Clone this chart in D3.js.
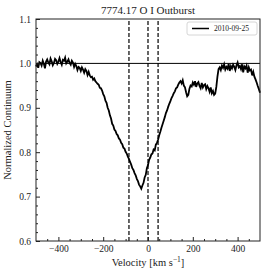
<!DOCTYPE html>
<html><head><meta charset="utf-8">
<script src="https://cdn.jsdelivr.net/npm/d3@7"></script>
<style>body{margin:0;background:#fff}svg text{font-family:"Liberation Serif","DejaVu Serif",serif}</style>
</head><body><svg id="c" width="266" height="275"></svg>
<script>
const vStart = -500, vStep = 5;
const flux = [
0.993,0.998,0.990,1.003,1.001,0.995,1.006,0.999,0.989,1.004,
1.009,1.002,0.998,1.011,1.005,0.996,1.001,1.010,1.007,0.999,
1.004,1.012,1.003,0.997,1.008,1.006,1.013,1.000,1.004,1.009,
1.001,0.997,1.006,1.002,0.992,0.999,0.994,0.985,0.992,0.990,
0.983,0.991,0.986,0.979,0.987,0.983,0.974,0.981,0.973,0.969,
0.970,0.963,0.966,0.960,0.957,0.954,0.952,0.945,0.944,0.939,
0.931,0.926,0.916,0.911,0.900,0.894,0.883,0.876,0.864,0.860,
0.851,0.848,0.841,0.838,0.831,0.828,0.821,0.818,0.810,0.808,
0.801,0.797,0.790,0.785,0.778,0.772,0.764,0.760,0.753,0.748,
0.740,0.735,0.727,0.723,0.718,0.725,0.731,0.743,0.749,0.764,
0.771,0.783,0.788,0.795,0.797,0.806,0.804,0.817,0.821,0.828,
0.838,0.846,0.855,0.863,0.871,0.879,0.888,0.894,0.902,0.909,
0.915,0.922,0.927,0.933,0.937,0.944,0.946,0.952,0.957,0.960,
0.955,0.962,0.950,0.946,0.935,0.926,0.929,0.943,0.950,0.948,
0.957,0.952,0.960,0.947,0.955,0.958,0.949,0.944,0.956,0.946,
0.951,0.953,0.942,0.949,0.944,0.936,0.946,0.933,0.938,0.929,
0.932,0.947,0.970,0.987,0.991,0.985,0.995,0.990,0.998,0.986,
0.992,0.988,0.999,0.983,0.994,0.989,0.997,0.992,0.985,0.996,
1.002,0.991,0.994,0.987,0.998,0.980,0.993,0.989,0.995,0.979,
0.991,0.984,0.986,0.973,0.981,0.970,0.964,0.957,0.949,0.942,
0.934];
const velocity = flux.map((f,i)=>vStart+i*vStep);
const markers = [-85, 0, 45];
const continuum = 1.0;
const xTicks = [-400,-200,0,200,400];
const yTicks = [0.6,0.7,0.8,0.9,1.0,1.1];
const title = "7774.17 O I Outburst";
const legendLabel = "2010-09-25";

const svg = d3.select("#c");
const m = {l:36, r:6, t:19, b:34};
const W = 266, H = 275;
const x = d3.scaleLinear().domain([-500,500]).range([m.l, W-m.r]);
const y = d3.scaleLinear().domain([0.6,1.1]).range([H-m.b, m.t]);

// curve
svg.append("path").datum(velocity.map((v,i)=>[v,flux[i]]))
  .attr("d", d3.line().x(d=>x(d[0])).y(d=>y(d[1])))
  .attr("fill","none").attr("stroke","#000").attr("stroke-width",1.8).attr("stroke-linejoin","miter");

// continuum line
svg.append("line").attr("x1",x(-500)).attr("x2",x(500)).attr("y1",y(continuum)).attr("y2",y(continuum))
  .attr("stroke","#000").attr("stroke-width",1);

// markers
svg.selectAll(".mk").data(markers).enter().append("line")
  .attr("x1",d=>x(d)).attr("x2",d=>x(d)).attr("y1",y(0.6)).attr("y2",y(1.1))
  .attr("stroke","#000").attr("stroke-width",1.2).attr("stroke-dasharray","4,2");

// axes
const gx = svg.append("g").attr("transform",`translate(0,${H-m.b})`)
  .call(d3.axisBottom(x).tickValues(xTicks).tickSizeInner(-4).tickSizeOuter(0).tickPadding(4)
    .tickFormat(d=>d<0?"\u2212"+Math.abs(d):d));
const gxm = svg.append("g").attr("transform",`translate(0,${H-m.b})`)
  .call(d3.axisBottom(x).tickValues(d3.range(-450,500,50).filter(v=>v%200!==0)).tickSizeInner(-2).tickSizeOuter(0).tickFormat(""));
const gy = svg.append("g").attr("transform",`translate(${m.l},0)`)
  .call(d3.axisLeft(y).tickValues(yTicks).tickSizeInner(-4).tickSizeOuter(0).tickPadding(5).tickFormat(d3.format(".1f")));
const gym = svg.append("g").attr("transform",`translate(${m.l},0)`)
  .call(d3.axisLeft(y).tickValues(d3.range(0.62,1.1,0.02).filter(v=>Math.abs(v*10-Math.round(v*10))>0.01)).tickSizeInner(-2).tickSizeOuter(0).tickFormat(""));
[gx,gxm,gy,gym].forEach(g=>{g.select(".domain").remove();g.selectAll("line").attr("stroke","#222");});
[gx,gy].forEach(g=>g.selectAll("text").attr("font-size",9.5).attr("fill","#222").attr("font-family","Liberation Serif"));

// frame
svg.append("rect").attr("x",m.l).attr("y",m.t).attr("width",W-m.r-m.l).attr("height",H-m.b-m.t)
  .attr("fill","none").attr("stroke","#222").attr("stroke-width",1);

// title & labels
svg.append("text").attr("x",(m.l+W-m.r)/2).attr("y",14).attr("text-anchor","middle").attr("font-size",11).attr("fill","#222").text(title);
const xl = svg.append("text").attr("x",(m.l+W-m.r)/2).attr("y",266).attr("text-anchor","middle").attr("font-size",10.5).attr("fill","#222");
xl.append("tspan").text("Velocity [km s");
xl.append("tspan").attr("dy",-4).attr("font-size",7.5).text("\u22121");
xl.append("tspan").attr("dy",4).text("]");
svg.append("text").attr("transform",`translate(11,${(m.t+H-m.b)/2}) rotate(-90)`).attr("text-anchor","middle").attr("font-size",10.5).attr("fill","#222").text("Normalized Continuum");

// legend
const lg = svg.append("g");
lg.append("rect").attr("x",187).attr("y",22).attr("width",70).attr("height",13).attr("rx",2)
  .attr("fill","#fff").attr("stroke","#ccc").attr("stroke-width",0.8);
lg.append("line").attr("x1",192).attr("x2",209).attr("y1",28.5).attr("y2",28.5).attr("stroke","#000").attr("stroke-width",1.5);
lg.append("text").attr("x",214).attr("y",31).attr("font-size",7.5).attr("fill","#222").text(legendLabel);
</script></body></html>
